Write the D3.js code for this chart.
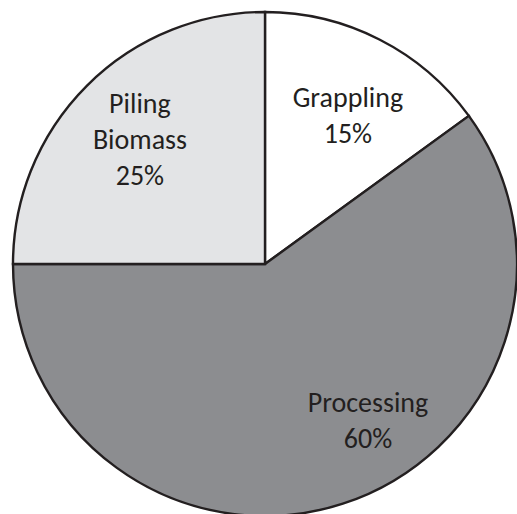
<!DOCTYPE html>
<html>
<head>
<meta charset="utf-8">
<script src="https://cdn.jsdelivr.net/npm/d3@7"></script>
<style>
  html, body { margin: 0; padding: 0; background: #fff; }
  svg { display: block; }
</style>
</head>
<body>
<svg id="chart" width="517" height="514"></svg>
<script>
// Share of total time by activity
const categories = ["Grappling", "Processing", "Piling Biomass"];
const shares = [15, 60, 25];
const labelLines = [["Grappling", "15%"], ["Processing", "60%"], ["Piling", "Biomass", "25%"]];
const fills = ["#ffffff", "#8c8d90", "#e3e4e6"];

const svg = d3.select("#chart");
const cx = 265, cy = 264, r = 252;

const pie = d3.pie().sort(null).value(d => d)(shares);
const arc = d3.arc().innerRadius(0).outerRadius(r);

const g = svg.append("g").attr("transform", `translate(${cx},${cy})`);

g.selectAll("path.slice")
  .data(pie)
  .join("path")
  .attr("class", "slice")
  .attr("d", arc)
  .attr("fill", (d, i) => fills[i])
  .attr("stroke", "#231f20")
  .attr("stroke-width", 2.4)
  .attr("stroke-linejoin", "miter");

// label anchor: angle offset from slice middle (radians) and distance from centre
const labelTweak = [
  { da: 0.068, rr: 161.5 },
  { da: -0.241, rr: 195.4 },
  { da: -0.042, rr: 169.9 }
];
const lineH = 36;

g.selectAll("text.lbl")
  .data(pie)
  .join("text")
  .attr("class", "lbl")
  .attr("text-anchor", "middle")
  .attr("font-family", "Carlito, Lato, 'Open Sans', sans-serif")
  .attr("font-size", 28)
  .attr("fill", "#231f20")
  .each(function (d, i) {
    const a = (d.startAngle + d.endAngle) / 2 + labelTweak[i].da;
    const x = Math.sin(a) * labelTweak[i].rr;
    const y = -Math.cos(a) * labelTweak[i].rr;
    const lines = labelLines[i];
    d3.select(this).selectAll("tspan")
      .data(lines)
      .join("tspan")
      .attr("x", x)
      .attr("y", (t, k) => y + (k - (lines.length - 1) / 2) * lineH)
      .text(t => t);
  });
</script>
</body>
</html>
